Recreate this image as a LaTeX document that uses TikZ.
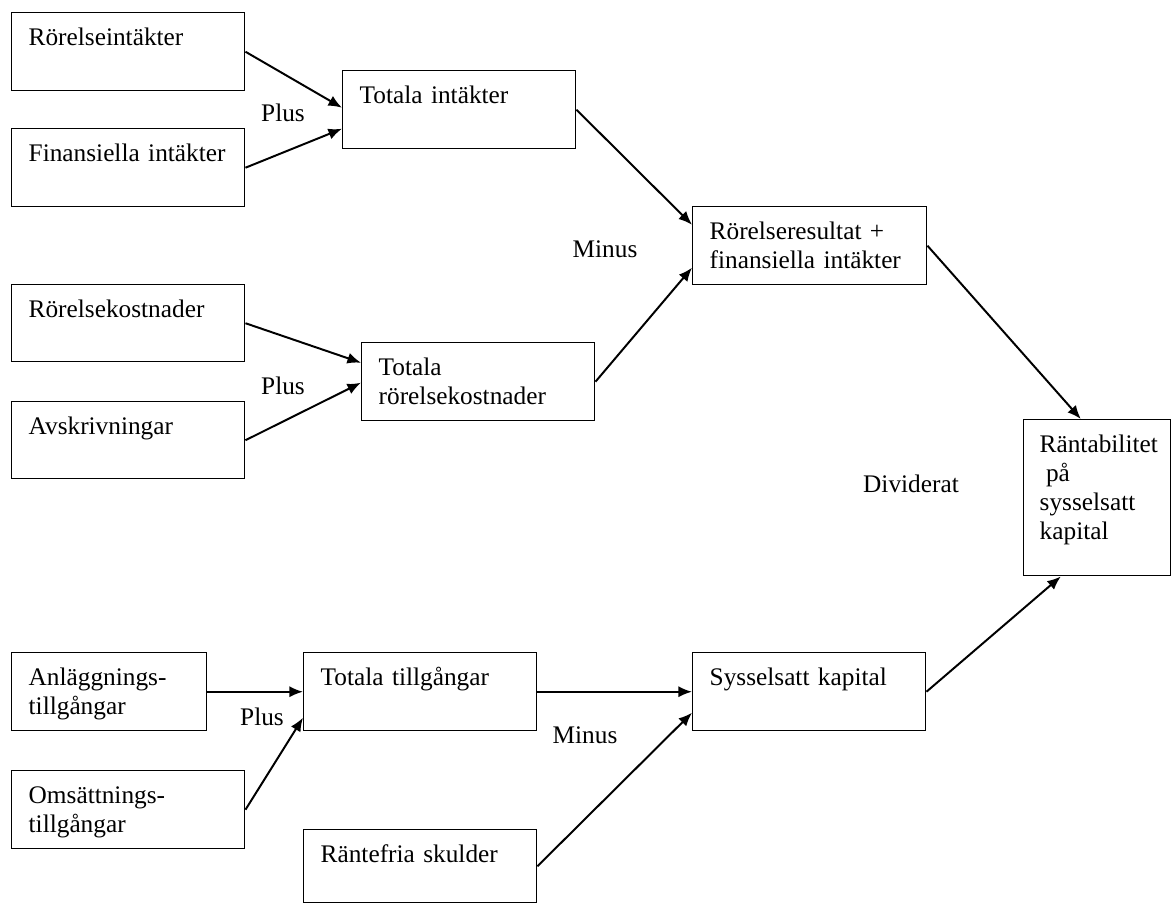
\documentclass[tikz,border=0pt]{standalone}
\usepackage{fontspec}
\setmainfont{Liberation Serif}
\usetikzlibrary{arrows.meta}
\newcommand{\boxfont}{\fontsize{18}{20.6}\selectfont}
\begin{document}
\begin{tikzpicture}[x=0.025cm,y=-0.025cm,
  box/.style={draw,line width=1pt,anchor=north west,
    inner xsep=0.425cm,inner ysep=0pt,align=left,
    text width=4.975cm,text height=0.825cm,text depth=1.125cm,
    font=\boxfont},
  lbl/.style={inner sep=0pt,font=\boxfont},
  arr/.style={-{Latex[length=0.34cm,width=0.28cm]},line width=1.4pt}]
  \useasboundingbox (0,0) rectangle (1171,904);
  % income side
  \node[box] (ri) at (11,12) {Rörelseintäkter};
  \node[box] (fi) at (11,128) {Finansiella intäkter};
  \node[box] (ti) at (342,70) {Totala intäkter};
  \node[box,text width=5cm] (rr) at (692,206)
    {Rörelseresultat +\\finansiella intäkter};
  % cost side
  \node[box,text depth=1.1cm] (rk) at (11,284) {Rörelsekostnader};
  \node[box,text depth=1.1cm] (av) at (11,401) {Avskrivningar};
  \node[box] (tr) at (361,342) {Totala\\rörelsekostnader};
  % result
  \node[box,inner xsep=0.4cm,text width=2.875cm,text depth=3.075cm] (rt)
    at (1023,419) {Räntabilitet\\\hspace*{0.25em}på\\sysselsatt\\kapital};
  % capital side
  \node[box,text width=4.025cm] (al) at (11,652) {Anläggnings-\\tillgångar};
  \node[box] (om) at (11,770) {Omsättnings-\\tillgångar};
  \node[box] (tt) at (303,652) {Totala tillgångar};
  \node[box] (sk) at (692,652) {Sysselsatt kapital};
  \node[box,text depth=1cm] (rf) at (303,829) {Räntefria skulder};

  \node[lbl] (plusa) at (283,113) {Plus};
  \node[lbl] (plusb) at (283,386) {Plus};
  \node[lbl] (plusc) at (262,717) {Plus};
  \node[lbl] (minusa) at (605,249) {Minus};
  \node[lbl] (minusb) at (585,735) {Minus};
  \node[lbl] (div) at (911,484) {Dividerat};

  \draw[arr] (ri.east) -- ([yshift=0.05cm]ti.west);
  \draw[arr] (fi.east) -- ([yshift=-0.475cm]ti.west);
  \draw[arr] (rk.east) -- ([yshift=0.475cm]tr.west);
  \draw[arr] (av.east) -- ([yshift=-0.025cm]tr.west);
  \draw[arr] (ti.east) -- ([yshift=0.525cm]rr.west);
  \draw[arr] (tr.east) -- ([yshift=-0.55cm]rr.west);
  \draw[arr] (rr.east) -- ([xshift=-0.41cm]rt.north);
  \draw[arr] (al.east) -- (tt.west);
  \draw[arr] (om.east) -- ([yshift=-0.65cm]tt.west);
  \draw[arr] (tt.east) -- (sk.west);
  \draw[arr] (rf.east) -- ([yshift=-0.525cm]sk.west);
  \draw[arr] (sk.east) -- ([xshift=-0.91cm]rt.south);
\end{tikzpicture}
\end{document}
